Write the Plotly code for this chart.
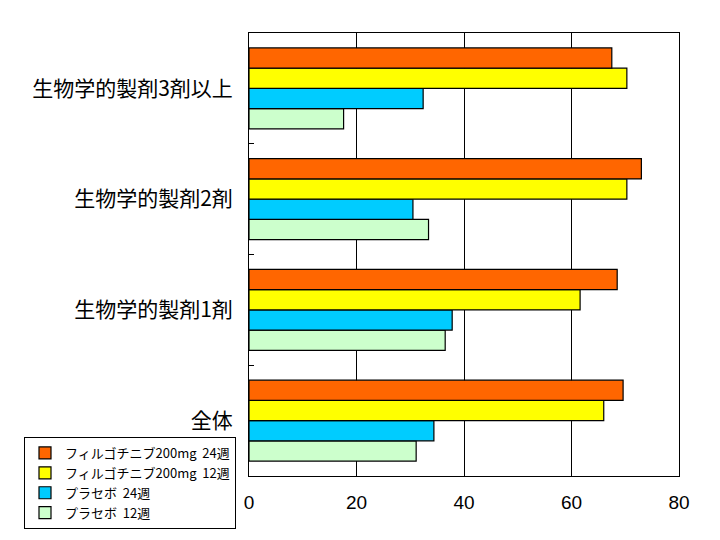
import plotly.graph_objects as go

categories = ["全体", "生物学的製剤1剤", "生物学的製剤2剤", "生物学的製剤3剤以上"]

series_names = [
    "フィルゴチニブ200mg\u00a0\u00a024週",
    "フィルゴチニブ200mg\u00a0\u00a012週",
    "プラセボ\u00a0\u00a024週",
    "プラセボ\u00a0\u00a012週",
]
series_colors = ["#FF6600", "#FFFF00", "#00CCFF", "#CCFFCC"]

filgo_24 = [69.6, 68.5, 73.0, 67.5]
filgo_12 = [66.0, 61.6, 70.3, 70.3]
placebo_24 = [34.4, 37.8, 30.5, 32.4]
placebo_12 = [31.1, 36.5, 33.4, 17.6]

x_ticks = [0, 20, 40, 60, 80]

all_values = [filgo_24, filgo_12, placebo_24, placebo_12]

fig = go.Figure()

# horizontal groups stack bottom-up, so add the last series first
for name, color, vals in reversed(list(zip(series_names, series_colors, all_values))):
    fig.add_trace(go.Bar(
        y=categories,
        x=vals,
        name=name,
        orientation="h",
        marker=dict(color=color, line=dict(color="black", width=1.2)),
    ))

# page body adds an 8px offset, margins account for it
fig.update_layout(
    width=720,
    height=540,
    barmode="group",
    bargap=0.27,
    bargroupgap=0,
    paper_bgcolor="white",
    plot_bgcolor="white",
    font=dict(family="Noto Sans CJK JP", color="black", size=19),
    margin=dict(l=241, r=49, t=25, b=72, autoexpand=False),
    legend=dict(
        traceorder="reversed",
        xref="paper",
        yref="paper",
        x=(24 - 249) / 430,
        y=(476 - 437) / 443,
        xanchor="left",
        yanchor="top",
        bordercolor="black",
        borderwidth=1,
        bgcolor="white",
        font=dict(size=13),
        itemwidth=30,
        tracegroupgap=0,
    ),
)

fig.update_xaxes(
    range=[0, 80],
    tickvals=x_ticks,
    showgrid=True,
    gridcolor="black",
    gridwidth=1,
    showline=True,
    linecolor="black",
    linewidth=1,
    mirror=True,
    zeroline=False,
    ticks="",
    automargin=False,
    ticklabelstandoff=9,
    tickfont=dict(size=19, family="Liberation Sans"),
)

fig.update_yaxes(
    showline=True,
    linecolor="black",
    linewidth=1,
    mirror=True,
    ticks="inside",
    tickson="boundaries",
    ticklen=5,
    tickcolor="black",
    showgrid=False,
    automargin=False,
    ticklabelstandoff=11,
    tickfont=dict(size=21),
)

fig.write_html("out.html")
